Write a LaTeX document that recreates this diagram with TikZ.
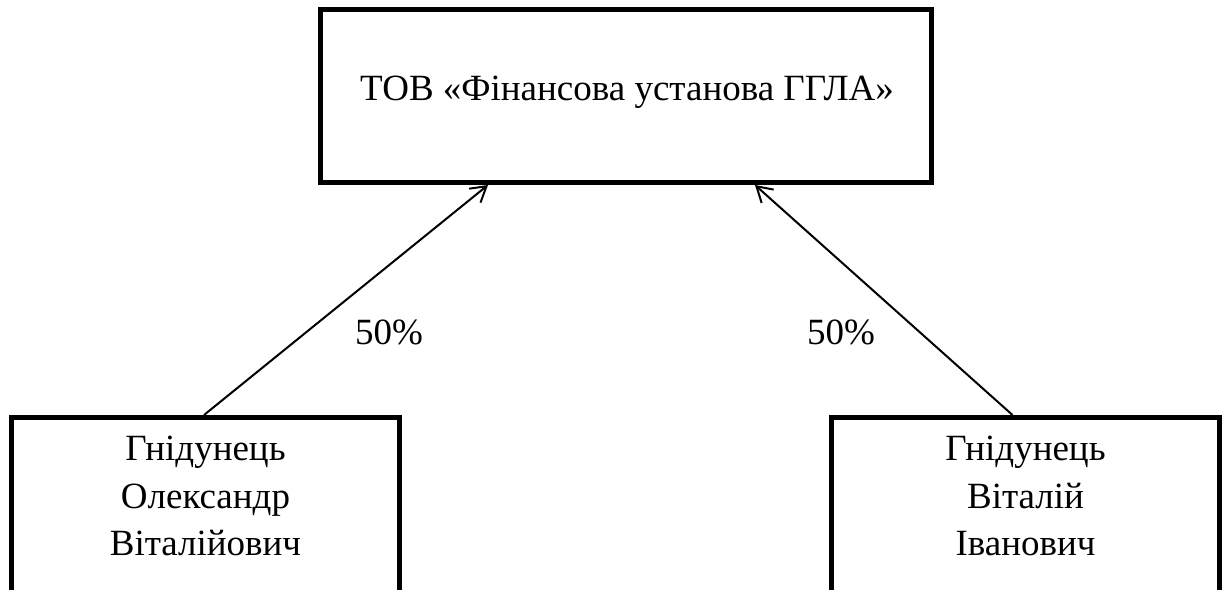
\documentclass[tikz,border=0pt]{standalone}
\usepackage{fontspec}
\setmainfont{Liberation Serif}
\usetikzlibrary{arrows.meta}
\tikzset{
  box/.style={draw, line width=5pt, inner sep=0pt, outer sep=0pt, rectangle},
  txt/.style={inner sep=0pt, outer sep=0pt, font=\fontsize{37}{47.5}\selectfont, align=center},
  arr/.style={line width=2pt, -{Straight Barb[length=15pt,width=18pt,line width=2pt]}}
}
\begin{document}
\begin{tikzpicture}[x=1pt,y=-1pt]
\useasboundingbox (0,0) rectangle (1223,589);
\clip (0,0) rectangle (1223,589);
% boxes
\node[box, minimum width=610.5pt, minimum height=172.8pt] (top) at (625.75,96.1) {};
\node[box, minimum width=388.5pt, minimum height=202.5pt] (bl) at (205.25,518.75) {};
\node[box, minimum width=388pt, minimum height=202.5pt] (br) at (1025,518.75) {};
% texts
\node[txt, anchor=base] (toptext) at (627,100.75) {ТОВ «Фінансова установа ГГЛА»};
\node[txt, anchor=north] (bltext) at (205.5,436) {Гнідунець\\Олександр\\Віталійович};
\node[txt, anchor=north] (brtext) at (1025.5,436) {Гнідунець\\Віталій\\Іванович};
% connectors
\coordinate (s1) at ([xshift=193pt, yshift=2.5pt]bl.north west);
\coordinate (t1) at ([xshift=167.5pt, yshift=-2.5pt]top.south west);
\coordinate (s2) at ([xshift=181.5pt, yshift=2.5pt]br.north west);
\coordinate (t2) at ([xshift=434.5pt, yshift=-2.5pt]top.south west);
\draw[arr] (s1) -- (t1);
\draw[arr] (s2) -- (t2);
% labels
\node[txt, anchor=base] (l1) at (389,344) {50\%};
\node[txt, anchor=base] (l2) at (841,344) {50\%};
\end{tikzpicture}
\end{document}
